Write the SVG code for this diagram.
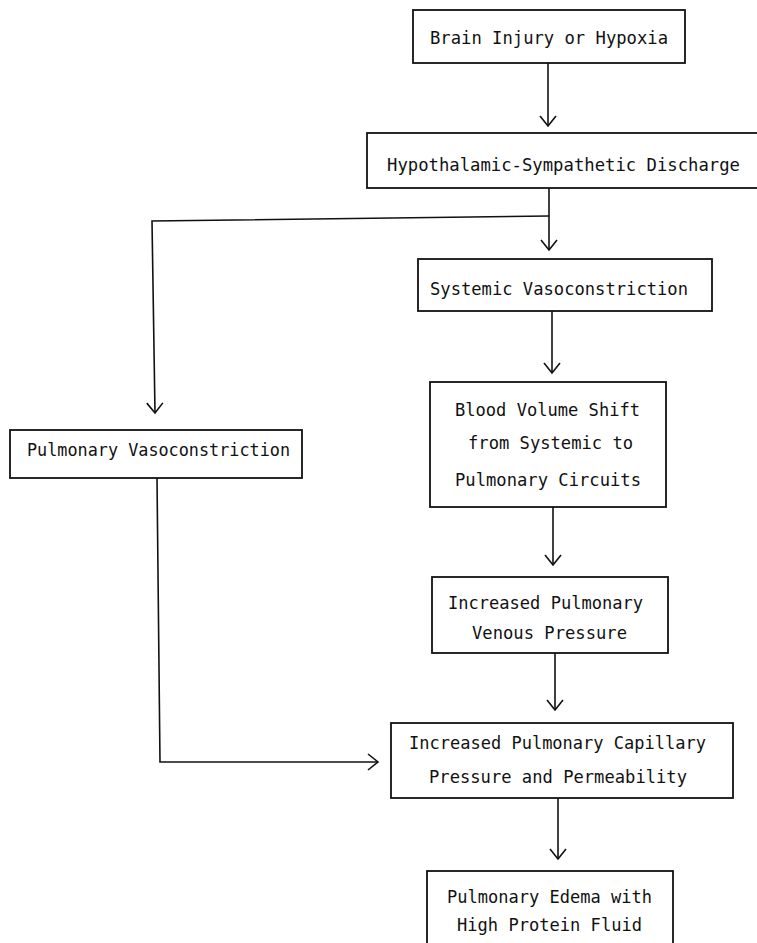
<svg xmlns="http://www.w3.org/2000/svg" width="757" height="943" viewBox="0 0 757 943">
<style>
.box{fill:none;stroke:#111;stroke-width:1.8}
.lbl{font-family:"DejaVu Sans Mono","Liberation Mono",monospace;font-size:18px;fill:#111}
.conn{fill:none;stroke:#111;stroke-width:1.6}
</style>
<defs>
<marker id="arr" markerUnits="userSpaceOnUse" viewBox="-12 -10 14 20" refX="0" refY="0" markerWidth="14" markerHeight="20" orient="auto">
<path d="M-10,-8 L0,0 L-10,8" fill="none" stroke="#111" stroke-width="1.6"/>
</marker>
</defs>
<rect x="0" y="0" width="757" height="943" fill="#fff"/>
<g id="connectors">
<line class="conn" x1="548" y1="63" x2="548" y2="126" marker-end="url(#arr)"/>
<line class="conn" x1="549" y1="188" x2="549" y2="216"/>
<line class="conn" x1="549" y1="216" x2="549" y2="250" marker-end="url(#arr)"/>
<polyline class="conn" points="549,216 152,221 155,413" marker-end="url(#arr)"/>
<line class="conn" x1="552" y1="311" x2="552" y2="373" marker-end="url(#arr)"/>
<line class="conn" x1="553" y1="507" x2="553" y2="565" marker-end="url(#arr)"/>
<line class="conn" x1="555" y1="653" x2="555" y2="710" marker-end="url(#arr)"/>
<polyline class="conn" points="157,478 160,762 378,762" marker-end="url(#arr)"/>
<line class="conn" x1="558" y1="798" x2="558" y2="859" marker-end="url(#arr)"/>
</g>
<g id="n1">
<rect class="box" x="413" y="10" width="272" height="53"/>
<text class="lbl" x="430" y="44" textLength="238" lengthAdjust="spacingAndGlyphs">Brain Injury or Hypoxia</text>
</g>
<g id="n2">
<rect class="box" x="367" y="133" width="400" height="55"/>
<text class="lbl" x="387" y="171" textLength="353" lengthAdjust="spacingAndGlyphs">Hypothalamic-Sympathetic Discharge</text>
</g>
<g id="n3">
<rect class="box" x="418" y="259" width="294" height="52"/>
<text class="lbl" x="430" y="295" textLength="258" lengthAdjust="spacingAndGlyphs">Systemic Vasoconstriction</text>
</g>
<g id="n4">
<rect class="box" x="430" y="382" width="236" height="125"/>
<text class="lbl" x="455" y="416" textLength="185" lengthAdjust="spacingAndGlyphs">Blood Volume Shift</text>
<text class="lbl" x="468" y="449" textLength="165" lengthAdjust="spacingAndGlyphs">from Systemic to</text>
<text class="lbl" x="455" y="486" textLength="186" lengthAdjust="spacingAndGlyphs">Pulmonary Circuits</text>
</g>
<g id="n5">
<rect class="box" x="432" y="577" width="236" height="76"/>
<text class="lbl" x="448" y="609" textLength="195" lengthAdjust="spacingAndGlyphs">Increased Pulmonary</text>
<text class="lbl" x="472" y="639" textLength="155" lengthAdjust="spacingAndGlyphs">Venous Pressure</text>
</g>
<g id="n6">
<rect class="box" x="10" y="430" width="292" height="48"/>
<text class="lbl" x="27" y="456" textLength="263" lengthAdjust="spacingAndGlyphs">Pulmonary Vasoconstriction</text>
</g>
<g id="n7">
<rect class="box" x="391" y="723" width="342" height="75"/>
<text class="lbl" x="409" y="749" textLength="297" lengthAdjust="spacingAndGlyphs">Increased Pulmonary Capillary</text>
<text class="lbl" x="429" y="783" textLength="258" lengthAdjust="spacingAndGlyphs">Pressure and Permeability</text>
</g>
<g id="n8">
<rect class="box" x="427" y="871" width="246" height="90"/>
<text class="lbl" x="447" y="903" textLength="205" lengthAdjust="spacingAndGlyphs">Pulmonary Edema with</text>
<text class="lbl" x="457" y="931" textLength="185" lengthAdjust="spacingAndGlyphs">High Protein Fluid</text>
</g>
</svg>
